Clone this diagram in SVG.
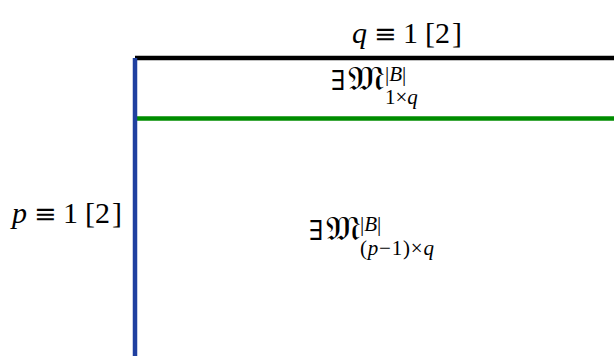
<svg xmlns="http://www.w3.org/2000/svg" width="614" height="356" viewBox="0 0 614 356">
<style>
.t{font-family:"Liberation Serif","DejaVu Serif",serif;font-size:30px;fill:#000}
.e{font-family:"DejaVu Serif",serif;font-size:27px}
.s{font-family:"Liberation Serif","DejaVu Serif",serif;font-size:21px;fill:#000}
.i{font-style:italic}
.f{font-family:"DejaVu Serif","Noto Sans","DejaVu Sans",serif;font-size:33px}
</style>
<rect width="614" height="356" fill="#fff"/>
<g id="lines">
<line x1="135" y1="58" x2="614" y2="58" stroke="#000" stroke-width="4.5"/>
<line x1="135" y1="118.5" x2="614" y2="118.5" stroke="#008c00" stroke-width="4.5"/>
<line x1="135" y1="58" x2="135" y2="356" stroke="#1f40a0" stroke-width="4.5"/>
</g>
<g id="top-label">
<text class="t" y="43"><tspan class="i" x="352">q</tspan><tspan class="e" x="374">≡</tspan><tspan x="403">1</tspan><tspan x="425">[</tspan><tspan x="435">2</tspan><tspan x="452">]</tspan></text>
</g>
<g id="left-label">
<text class="t" y="223"><tspan class="i" x="12">p</tspan><tspan class="e" x="34">≡</tspan><tspan x="63">1</tspan><tspan x="85">[</tspan><tspan x="95">2</tspan><tspan x="112">]</tspan></text>
</g>
<g id="row-label">
<text class="t e" x="331" y="90">∃</text>
<text class="f" x="348" y="90" textLength="36" lengthAdjust="spacingAndGlyphs">𝔐</text>
<text class="s" x="385" y="81">|<tspan class="i">B</tspan>|</text>
<text class="s" x="385" y="104">1×<tspan class="i">q</tspan></text>
</g>
<g id="rest-label">
<text class="t e" x="309" y="240">∃</text>
<text class="f" x="326" y="240" textLength="34" lengthAdjust="spacingAndGlyphs">𝔐</text>
<text class="s" x="360" y="231">|<tspan class="i">B</tspan>|</text>
<text class="s" x="360" y="255" letter-spacing="0.8">(<tspan class="i">p</tspan>−1)×<tspan class="i">q</tspan></text>
</g>
</svg>
